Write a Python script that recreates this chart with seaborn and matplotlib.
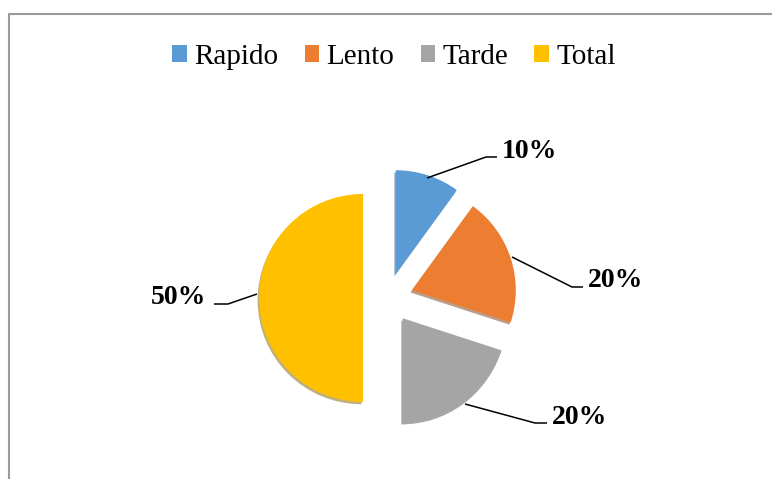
import matplotlib
matplotlib.use("Agg")
import matplotlib.pyplot as plt
from matplotlib.patches import Patch
from matplotlib.lines import Line2D
import seaborn as sns

categories = ["Rapido", "Lento", "Tarde", "Total"]
values = [10, 20, 20, 50]
colors = ["#5B9BD5", "#ED7D31", "#A5A5A5", "#FFC000"]

sns.set_theme(style="white")
plt.rcParams["font.family"] = ["Liberation Serif", "DejaVu Serif"]
plt.rcParams["text.color"] = "black"

W, H = 772, 479
fig = plt.figure(figsize=(W / 100, H / 100), dpi=100)
ax = fig.add_axes([0, 0, 1, 1])

def py(y):
    return H - y

wedges, _ = ax.pie(values, colors=colors, startangle=90, counterclock=False,
                   explode=[25] * len(values), radius=104, center=(388, py(298)),
                   shadow={"ox": -1.0, "oy": -1.6, "shade": 0.5},
                   wedgeprops={"linewidth": 0})
ax.set_xlim(0, W)
ax.set_ylim(0, H)
ax.set_aspect("equal")
ax.axis("off")

total = sum(values)
labels = [f"{v / total * 100:.0f}%" for v in values]

# leader lines and label anchors (pixel coords)
leaders = [
    [(427, 178), (486, 157), (497, 157)],
    [(512, 257), (572, 287), (583, 287)],
    [(465, 404), (535, 423), (547, 423)],
    [(257, 294), (228, 304), (214, 304)],
]
anchors = [(502, 158, "left"), (588, 287, "left"), (552, 424, "left"), (206, 304, "right")]
for pts, (tx, ty, ha), lab in zip(leaders, anchors, labels):
    ax.plot([p[0] for p in pts], [py(p[1]) for p in pts], color="black", lw=1.1,
            solid_capstyle="butt")
    ax.text(tx, py(ty), lab, ha=ha, va="baseline", fontsize=20, fontweight="bold",
            color="black")

handles = [Patch(facecolor=c, edgecolor="none", label=n) for c, n in zip(colors, categories)]
fig.legend(handles=handles, loc="center", bbox_to_anchor=(394 / W, 1 - 57 / H),
           ncol=4, frameon=False, fontsize=21, handlelength=0.5, handleheight=0.5,
           handletextpad=0.25, columnspacing=0.9, borderpad=0, labelcolor="black")

# partial frame (left and top)
fig.add_artist(Line2D([9 / W, 9 / W], [0, 1 - 14 / H], color="#9a9a9a", lw=1.5,
                      transform=fig.transFigure))
fig.add_artist(Line2D([9 / W, 1], [1 - 14 / H, 1 - 14 / H], color="#9a9a9a", lw=1.5,
                      transform=fig.transFigure))

fig.savefig("out.png", dpi=100)
